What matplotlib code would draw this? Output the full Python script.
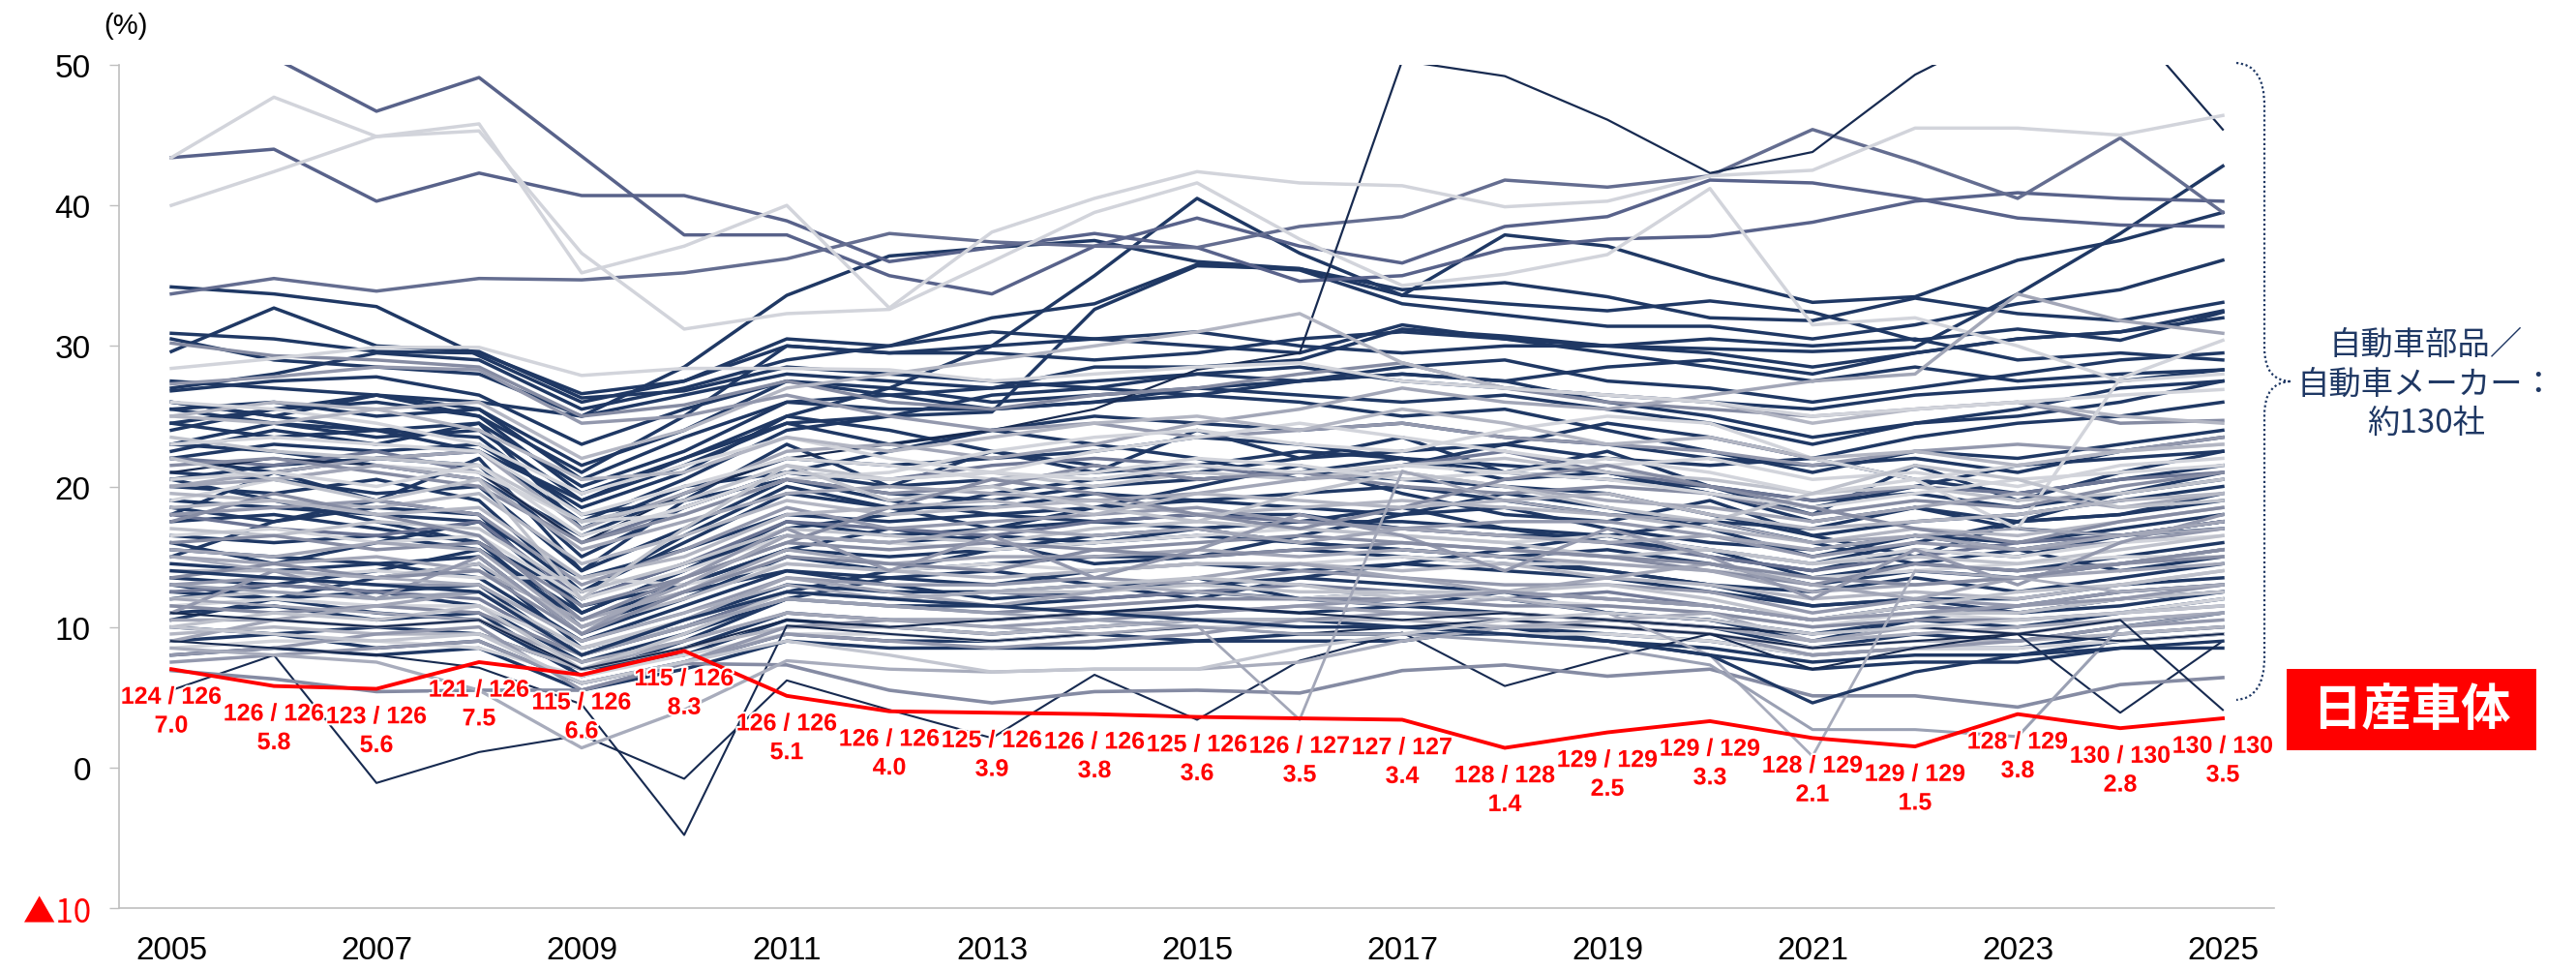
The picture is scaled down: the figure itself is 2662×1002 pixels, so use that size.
import matplotlib
matplotlib.use("Agg")
import matplotlib.pyplot as plt
from matplotlib.path import Path
from matplotlib.patches import PathPatch, Rectangle
import matplotlib.patheffects as pe

# ---------------- data ----------------
years = list(range(2005, 2026))
x_tick_years = [2005, 2007, 2009, 2011, 2013, 2015, 2017, 2019, 2021, 2023, 2025]
y_ticks = [-10, 0, 10, 20, 30, 40, 50]
y_tick_labels = ["▲10", "0", "10", "20", "30", "40", "50"]

nissan_shatai = [7.0, 5.8, 5.6, 7.5, 6.6, 8.3, 5.1, 4.0, 3.9, 3.8, 3.6,
                 3.5, 3.4, 1.4, 2.5, 3.3, 2.1, 1.5, 3.8, 2.8, 3.5]
nissan_rank = ["124 / 126", "126 / 126", "123 / 126", "121 / 126", "115 / 126",
               "115 / 126", "126 / 126", "126 / 126", "125 / 126", "126 / 126",
               "125 / 126", "126 / 127", "127 / 127", "128 / 128", "129 / 129",
               "129 / 129", "128 / 129", "129 / 129", "128 / 129", "130 / 130",
               "130 / 130"]

navy_lines = [
    [27.5, 27.0, 26.5, 26.0, 25.0, 26.5, 28.0, 27.5, 27.0, 27.5, 28.0, 28.5, 27.5, 27.0, 26.5, 26.0, 25.5, 26.5, 27.0, 27.5, 28.3],
    [26.8, 27.5, 27.8, 26.5, 23.0, 25.5, 27.5, 27.0, 26.0, 26.5, 27.0, 27.5, 28.0, 27.5, 26.0, 25.0, 23.5, 24.5, 25.5, 27.0, 27.5],
    [25.5, 26.0, 25.0, 25.5, 20.5, 23.5, 26.0, 25.5, 25.5, 26.0, 26.5, 26.0, 25.0, 25.5, 24.0, 22.5, 21.0, 22.5, 22.0, 23.0, 24.0],
    [24.5, 23.5, 24.0, 22.5, 19.0, 22.0, 24.5, 23.0, 24.0, 25.0, 24.5, 24.0, 24.5, 23.5, 23.0, 22.0, 21.5, 22.0, 21.0, 22.5, 23.5],
    [23.0, 22.5, 21.5, 20.5, 16.5, 19.5, 22.0, 21.5, 22.0, 22.5, 23.5, 23.0, 22.0, 21.5, 21.0, 19.5, 18.5, 20.0, 21.5, 22.0, 22.5],
    [22.0, 21.0, 22.0, 21.5, 15.0, 18.5, 21.0, 20.0, 20.5, 21.0, 21.5, 22.5, 22.0, 21.0, 20.5, 20.0, 19.0, 19.5, 18.5, 19.5, 20.5],
    [21.0, 20.5, 19.5, 20.0, 14.0, 17.0, 20.5, 19.5, 19.0, 20.0, 20.5, 21.0, 20.5, 20.0, 19.5, 18.0, 16.5, 17.5, 18.0, 19.0, 20.0],
    [20.0, 19.5, 20.5, 19.0, 12.5, 16.0, 19.5, 18.5, 18.5, 19.5, 19.0, 19.5, 20.0, 19.0, 18.0, 17.5, 17.0, 18.5, 17.5, 18.0, 19.0],
    [19.0, 18.5, 18.0, 17.5, 13.5, 15.5, 18.0, 17.5, 18.0, 18.5, 19.0, 18.5, 18.0, 18.5, 17.0, 16.0, 15.5, 16.5, 16.0, 17.0, 18.0],
    [18.5, 17.5, 18.5, 18.0, 11.0, 14.0, 17.5, 16.5, 17.0, 17.5, 18.0, 18.0, 17.0, 16.5, 16.5, 15.0, 14.0, 15.5, 15.0, 16.5, 17.0],
    [17.5, 18.0, 17.0, 16.0, 12.0, 14.5, 16.5, 16.0, 16.5, 16.0, 17.0, 17.5, 17.5, 17.0, 16.0, 15.5, 13.5, 14.5, 14.0, 15.0, 16.0],
    [16.5, 16.0, 16.5, 15.5, 10.5, 13.0, 15.5, 15.0, 15.5, 16.0, 16.5, 16.0, 15.5, 15.0, 15.5, 14.5, 13.0, 14.0, 13.5, 14.5, 15.5],
    [15.5, 15.0, 14.5, 15.0, 9.5, 12.0, 15.0, 14.0, 14.5, 15.0, 15.0, 15.5, 15.0, 14.5, 14.0, 13.0, 12.5, 13.5, 12.5, 13.5, 14.5],
    [14.5, 14.0, 14.5, 13.5, 9.0, 11.5, 14.0, 13.5, 13.0, 14.0, 14.5, 14.0, 14.5, 14.0, 13.5, 12.5, 11.5, 12.0, 12.0, 13.0, 13.5],
    [13.5, 13.0, 12.5, 13.0, 8.0, 10.5, 13.0, 12.5, 12.5, 13.0, 13.0, 13.5, 13.0, 12.5, 12.0, 11.5, 10.5, 11.5, 11.0, 12.0, 12.5],
    [12.5, 12.0, 12.5, 11.5, 7.5, 9.5, 12.0, 11.5, 11.5, 12.0, 12.5, 12.0, 12.5, 12.0, 11.0, 10.5, 9.5, 10.5, 10.0, 11.0, 12.0],
    [11.0, 11.5, 10.5, 11.0, 6.5, 8.5, 11.0, 10.5, 10.5, 11.0, 11.5, 11.0, 11.5, 11.0, 10.5, 10.0, 8.5, 9.5, 9.0, 10.0, 11.0],
    [10.0, 9.5, 10.0, 9.5, 7.0, 8.0, 10.5, 10.0, 9.5, 10.0, 10.5, 10.5, 10.0, 10.0, 9.5, 9.0, 8.0, 8.5, 8.5, 9.5, 10.0],
    [9.0, 9.5, 8.5, 9.0, 6.0, 7.5, 9.5, 9.0, 9.0, 9.5, 9.0, 9.5, 9.5, 9.5, 9.0, 8.5, 7.5, 8.0, 8.0, 9.0, 9.5],
    [8.0, 8.5, 8.0, 8.5, 5.5, 7.0, 9.0, 8.5, 8.5, 8.5, 9.0, 9.0, 9.0, 10.0, 9.0, 8.0, 7.0, 7.5, 7.5, 8.5, 8.5],
    [12.0, 13.0, 14.0, 15.5, 11.0, 14.0, 17.0, 18.0, 19.5, 20.5, 21.0, 22.0, 22.5, 23.0, 22.0, 21.5, 22.0, 23.5, 24.5, 25.0, 26.0],
    [26.0, 25.0, 24.0, 23.5, 18.0, 19.0, 20.5, 19.0, 18.0, 17.5, 17.0, 16.0, 15.5, 15.0, 14.0, 13.0, 11.5, 12.0, 11.0, 11.5, 12.5],
    [18.0, 21.0, 19.0, 22.0, 14.0, 19.0, 23.0, 20.0, 22.5, 21.0, 24.0, 22.0, 23.5, 21.0, 22.5, 20.0, 18.0, 21.5, 19.0, 21.0, 22.5],
    [15.0, 17.5, 19.0, 18.0, 12.5, 16.5, 20.0, 18.5, 17.0, 18.5, 20.0, 21.5, 19.5, 18.0, 17.5, 19.0, 16.5, 15.0, 17.5, 19.5, 21.0],
    [22.5, 24.0, 23.0, 24.5, 17.0, 20.0, 21.0, 22.5, 24.0, 23.0, 22.0, 20.5, 21.5, 23.0, 24.5, 23.5, 22.0, 20.5, 19.5, 20.5, 21.5],
    [10.5, 12.0, 13.5, 14.5, 8.5, 10.0, 12.5, 14.0, 15.5, 16.5, 17.0, 17.5, 18.5, 17.0, 16.5, 15.5, 14.5, 16.0, 17.5, 18.0, 19.5],
    [20.5, 19.0, 17.5, 16.0, 10.0, 12.5, 14.0, 13.0, 12.0, 12.5, 13.5, 12.0, 11.5, 12.5, 11.0, 10.5, 9.0, 10.5, 11.5, 12.5, 13.0],
    [16.0, 14.5, 16.0, 17.5, 11.5, 13.0, 15.5, 17.0, 16.0, 14.5, 15.0, 16.5, 18.0, 19.5, 18.5, 17.0, 15.0, 16.5, 15.5, 14.0, 15.0],
    [24.0, 25.5, 26.5, 25.0, 19.5, 22.0, 25.0, 24.0, 22.5, 21.5, 20.5, 21.0, 22.0, 20.5, 21.0, 19.5, 17.5, 18.5, 17.0, 16.5, 17.5],
    [13.0, 12.0, 11.0, 10.5, 6.5, 9.0, 12.0, 13.5, 14.0, 13.0, 12.0, 13.5, 14.5, 15.5, 16.5, 17.5, 16.0, 14.5, 15.5, 16.5, 17.5],
    [29.6, 32.7, 30.0, 29.6, 26.3, 26.8, 28.5, 28.0, 27.5, 27.0, 28.0, 27.5, 28.5, 29.0, 27.5, 27.0, 26.0, 27.0, 28.0, 29.0, 29.5],
    [30.9, 30.5, 29.6, 29.5, 26.6, 27.5, 30.0, 29.5, 29.5, 29.0, 29.5, 30.5, 31.0, 30.5, 30.0, 29.5, 28.5, 29.5, 30.5, 31.0, 32.5],
    [34.2, 33.7, 32.8, 29.3, 26.0, 27.5, 30.5, 30.0, 31.0, 30.5, 31.0, 30.0, 29.5, 30.0, 30.0, 30.5, 30.0, 30.5, 29.0, 29.5, 29.0],
    [30.5, 29.0, 28.5, 28.0, 25.0, 28.5, 33.6, 36.4, 37.0, 37.5, 36.0, 35.5, 34.0, 34.5, 33.5, 32.0, 31.8, 33.4, 32.3, 31.8, 33.1],
    [27.0, 28.0, 29.5, 29.0, 25.5, 27.0, 29.0, 30.0, 32.0, 33.0, 35.8, 35.4, 33.0, 32.2, 31.4, 31.4, 30.5, 31.5, 33.0, 34.0, 36.1],
    [23.0, 24.5, 23.5, 24.0, 19.0, 21.5, 24.5, 25.0, 25.3, 32.6, 35.7, 35.5, 33.6, 37.9, 37.1, 34.9, 33.1, 33.5, 36.1, 37.5, 39.5],
    [26.0, 25.0, 26.5, 25.5, 21.5, 24.0, 27.5, 26.5, 27.0, 28.5, 28.5, 29.0, 31.2, 30.7, 30.0, 29.8, 29.6, 29.9, 33.7, 38.0, 42.8],
    [24.5, 25.5, 26.0, 25.0, 21.0, 25.0, 30.0, 29.5, 30.0, 30.5, 30.0, 29.5, 31.5, 30.5, 29.5, 28.5, 27.5, 28.5, 27.5, 28.0, 28.3],
    [22.0, 23.0, 22.5, 23.0, 18.5, 21.0, 25.0, 27.0, 30.0, 35.0, 40.5, 36.6, 33.6, 33.0, 32.5, 33.2, 32.4, 30.4, 31.2, 30.4, 32.4],
    [20.5, 21.5, 22.0, 22.5, 17.5, 20.5, 24.0, 25.0, 26.5, 27.0, 26.5, 27.5, 28.0, 27.5, 28.5, 29.0, 28.0, 29.5, 30.5, 31.0, 32.0],
    [25.5, 24.5, 24.0, 24.5, 20.0, 22.5, 26.0, 26.5, 25.5, 26.0, 27.0, 26.5, 26.0, 26.5, 25.5, 24.5, 23.0, 24.5, 25.0, 26.0, 27.5],
]

spike_line = [21.0, 22.0, 21.5, 21.0, 16.0, 19.5, 22.0, 23.0, 24.0, 25.5, 28.3,
              29.5, 50.3, 49.2, 46.1, 42.3, 43.8, 49.3, 53.0, 53.8, 45.4]

slate_lines = [
    [56.0, 50.5, 46.7, 49.1, 43.5, 37.9, 37.9, 35.0, 33.7, 37.1, 39.1, 37.1, 35.9, 38.5, 39.2, 41.8, 41.6, 40.5, 39.1, 38.6, 38.5],
    [43.4, 44.0, 40.3, 42.3, 40.7, 40.7, 38.9, 36.0, 37.0, 38.0, 37.0, 34.6, 35.0, 36.9, 37.6, 37.8, 38.8, 40.3, 40.9, 40.5, 40.3],
    [33.7, 34.8, 33.9, 34.8, 34.7, 35.2, 36.2, 38.0, 37.4, 37.1, 37.0, 38.5, 39.2, 41.8, 41.3, 42.1, 45.4, 43.1, 40.5, 44.8, 39.5],
    [22.0, 21.5, 22.5, 21.0, 16.0, 18.5, 21.0, 20.5, 21.5, 22.0, 21.5, 20.5, 21.5, 22.5, 21.0, 20.0, 19.0, 20.0, 19.5, 20.5, 21.0],
    [18.0, 17.0, 16.5, 17.5, 12.0, 14.5, 17.5, 17.0, 16.5, 17.5, 18.0, 17.5, 17.0, 16.5, 16.0, 15.0, 14.0, 15.0, 16.0, 16.5, 17.5],
    [12.5, 13.0, 12.5, 12.0, 8.0, 10.0, 12.5, 12.0, 12.5, 12.0, 12.5, 13.0, 12.5, 12.0, 12.5, 11.5, 10.5, 11.5, 11.0, 12.0, 12.5],
]

grey_lines = [
    [30.2, 29.3, 29.0, 28.5, 25.0, 25.8, 27.5, 26.0, 25.5, 26.5, 27.0, 28.0, 28.8, 27.0, 26.0, 25.5, 25.0, 25.5, 26.0, 24.5, 24.7],
    [20.0, 21.0, 22.0, 22.5, 17.0, 19.5, 22.5, 23.0, 22.0, 23.0, 24.5, 25.5, 27.0, 26.0, 25.5, 26.5, 27.5, 28.0, 33.7, 31.8, 30.9],
    [25.0, 26.0, 25.5, 26.0, 22.0, 24.0, 27.0, 28.0, 29.0, 30.0, 31.0, 32.3, 28.8, 27.0, 26.5, 26.0, 24.5, 25.5, 26.0, 25.0, 24.5],
    [27.3, 27.8, 28.5, 28.3, 24.5, 25.0, 26.5, 25.0, 24.0, 24.5, 23.5, 24.0, 24.5, 23.5, 23.0, 22.5, 21.5, 22.5, 23.0, 22.5, 23.5],
    [23.5, 22.5, 22.0, 21.5, 17.5, 19.0, 21.5, 20.5, 21.0, 20.0, 21.0, 20.5, 21.5, 22.0, 21.0, 20.5, 19.5, 20.0, 19.0, 19.5, 20.5],
    [21.5, 22.0, 21.0, 20.0, 16.0, 18.0, 20.5, 19.5, 20.0, 21.5, 20.5, 21.0, 20.0, 19.5, 20.0, 19.5, 18.0, 19.0, 18.5, 20.0, 21.0],
    [20.0, 20.5, 21.5, 20.5, 15.5, 17.5, 19.5, 20.0, 19.5, 19.0, 19.5, 20.5, 21.0, 20.0, 19.0, 18.5, 17.5, 18.5, 19.5, 18.5, 19.5],
    [19.5, 19.0, 18.5, 19.5, 14.5, 16.5, 19.0, 18.0, 18.5, 19.0, 18.0, 18.5, 19.0, 18.5, 18.0, 17.0, 16.0, 17.0, 16.5, 17.5, 18.5],
    [18.0, 18.5, 19.0, 18.0, 13.0, 15.5, 18.5, 17.0, 17.5, 18.0, 18.5, 17.5, 17.0, 17.5, 17.5, 16.5, 15.0, 16.0, 15.5, 16.0, 17.0],
    [17.0, 16.5, 17.5, 17.0, 12.5, 14.5, 17.0, 16.5, 16.0, 17.0, 17.5, 17.0, 16.5, 16.0, 15.0, 15.5, 14.5, 15.0, 14.5, 15.5, 16.5],
    [16.0, 16.5, 15.5, 16.0, 11.5, 13.5, 16.0, 15.5, 16.0, 15.5, 16.0, 16.5, 16.0, 15.5, 15.0, 14.0, 13.0, 14.5, 14.0, 14.5, 15.0],
    [15.0, 14.5, 15.0, 14.0, 10.5, 12.5, 15.5, 14.5, 15.0, 15.0, 15.5, 15.0, 15.5, 15.0, 14.5, 14.0, 12.5, 13.0, 13.5, 14.0, 14.5],
    [14.0, 14.0, 13.5, 14.5, 10.0, 12.0, 14.5, 14.0, 13.5, 14.0, 14.5, 14.5, 14.0, 14.5, 13.5, 13.0, 12.0, 12.5, 12.0, 13.0, 14.0],
    [13.0, 13.5, 13.0, 13.0, 9.0, 11.0, 13.5, 13.0, 13.0, 13.5, 13.0, 14.0, 13.5, 13.0, 13.0, 12.5, 11.0, 12.0, 11.5, 12.5, 13.0],
    [12.0, 12.5, 12.0, 12.5, 8.5, 10.5, 12.5, 12.0, 12.5, 12.5, 13.0, 12.5, 12.5, 12.5, 12.0, 11.5, 10.5, 11.0, 11.0, 12.0, 12.5],
    [11.5, 11.0, 11.5, 11.0, 8.0, 10.0, 12.0, 11.5, 11.0, 11.5, 12.0, 12.0, 12.0, 11.5, 11.5, 11.0, 10.0, 10.5, 10.5, 11.0, 11.5],
    [10.5, 10.5, 10.0, 10.5, 7.5, 9.0, 11.0, 10.5, 10.5, 11.0, 11.0, 11.5, 11.0, 11.0, 10.5, 10.0, 9.0, 10.0, 9.5, 10.5, 11.0],
    [9.5, 10.0, 9.5, 9.5, 7.0, 8.5, 10.0, 10.0, 9.5, 10.0, 10.5, 10.5, 10.5, 10.0, 10.0, 9.5, 8.5, 9.0, 9.0, 9.5, 10.0],
    [11.0, 14.0, 12.0, 15.0, 9.5, 13.5, 17.0, 14.0, 16.5, 13.5, 15.5, 18.0, 16.5, 14.0, 17.0, 15.0, 12.0, 15.5, 13.0, 16.0, 18.0],
    [22.0, 20.5, 19.0, 20.5, 12.0, 17.0, 21.5, 19.0, 20.0, 18.5, 17.5, 19.5, 21.0, 20.0, 18.5, 17.5, 19.5, 21.5, 20.5, 18.5, 19.0],
    [17.5, 19.5, 18.0, 16.5, 10.5, 13.5, 16.0, 18.5, 20.5, 19.5, 18.0, 17.0, 18.5, 20.5, 21.5, 20.0, 18.5, 17.0, 16.0, 17.5, 18.5],
    [9.0, 10.5, 11.5, 12.5, 8.0, 10.5, 13.5, 12.5, 11.5, 12.5, 13.5, 14.5, 13.5, 12.5, 13.5, 14.5, 13.0, 12.0, 13.5, 14.5, 15.5],
    [25.0, 24.5, 25.5, 24.0, 20.5, 21.0, 23.5, 22.5, 23.5, 24.5, 25.0, 24.0, 25.5, 24.5, 23.0, 23.5, 22.0, 22.5, 21.5, 22.5, 23.0],
    [7.5, 8.0, 8.5, 9.0, 6.0, 7.5, 9.5, 9.0, 8.5, 9.0, 9.5, 10.5, 11.0, 10.5, 10.0, 9.5, 8.0, 8.5, 9.0, 10.0, 10.5],
    [10.0, 11.0, 10.5, 11.5, 7.0, 9.5, 12.5, 12.0, 12.5, 13.0, 13.5, 13.0, 12.0, 12.5, 13.0, 12.0, 10.5, 11.5, 12.5, 13.0, 14.0],
    [13.5, 14.5, 13.5, 14.0, 9.5, 12.5, 15.0, 14.5, 14.0, 15.5, 15.0, 15.5, 16.0, 15.5, 15.0, 14.5, 13.5, 13.0, 13.5, 14.5, 15.5],
    [15.5, 15.0, 16.0, 15.5, 10.0, 13.0, 16.5, 16.0, 17.0, 16.5, 17.0, 16.0, 17.0, 16.5, 16.0, 16.5, 15.5, 16.5, 15.5, 16.5, 17.5],
    [18.5, 19.0, 18.0, 18.5, 13.5, 15.0, 18.0, 18.5, 19.0, 18.0, 19.5, 19.0, 18.5, 19.0, 19.5, 18.0, 17.0, 17.5, 18.0, 19.0, 19.5],
    [8.0, 8.5, 9.5, 10.0, 5.5, 7.5, 10.0, 10.5, 10.0, 10.5, 11.0, 11.5, 12.0, 12.5, 12.0, 11.5, 10.5, 11.0, 11.5, 12.0, 13.0],
]

light_lines = [
    [43.4, 47.7, 44.9, 45.3, 36.6, 31.2, 32.3, 32.6, 36.0, 39.5, 41.6, 37.6, 34.3, 35.1, 36.5, 41.2, 31.5, 32.0, 30.0, 27.5, 28.0],
    [40.0, 42.4, 44.9, 45.8, 35.2, 37.1, 40.0, 32.7, 38.1, 40.5, 42.4, 41.6, 41.4, 39.9, 40.3, 42.1, 42.5, 45.5, 45.5, 45.0, 46.4],
    [28.4, 29.1, 29.9, 29.9, 27.9, 28.4, 28.4, 28.3, 27.5, 28.0, 28.5, 28.8, 27.5, 27.0, 26.5, 26.0, 25.0, 25.5, 26.0, 26.5, 26.9],
    [19.0, 20.5, 21.5, 21.0, 17.5, 18.0, 20.5, 21.0, 22.5, 23.5, 24.0, 23.0, 22.5, 24.0, 25.0, 24.5, 22.0, 20.5, 17.0, 27.7, 30.4],
    [26.0, 25.5, 24.5, 23.0, 19.5, 21.5, 23.5, 22.0, 21.0, 22.5, 23.5, 24.5, 23.5, 22.5, 21.5, 22.0, 20.5, 21.0, 20.0, 21.5, 22.0],
    [8.5, 9.0, 9.0, 8.5, 6.5, 8.0, 9.5, 9.5, 9.0, 9.5, 10.0, 10.0, 10.0, 9.5, 9.5, 9.0, 8.0, 8.5, 8.5, 9.0, 9.5],
    [14.0, 13.5, 14.0, 13.5, 13.5, 13.0, 14.5, 14.0, 14.5, 14.0, 14.5, 14.5, 15.0, 14.5, 14.5, 14.0, 13.5, 14.0, 14.5, 15.0, 15.0],
    [23.0, 23.5, 23.0, 22.5, 18.0, 20.0, 22.0, 21.5, 20.5, 21.0, 22.0, 21.5, 20.5, 21.0, 22.0, 21.0, 19.5, 20.5, 21.5, 22.5, 23.0],
    [16.5, 17.0, 16.0, 16.5, 12.0, 14.0, 16.5, 16.0, 15.5, 16.0, 16.5, 17.0, 16.5, 16.0, 16.5, 15.5, 14.5, 15.5, 15.0, 16.0, 16.5],
    [11.5, 12.0, 11.5, 11.5, 8.5, 10.0, 12.0, 11.5, 11.0, 11.5, 12.0, 12.0, 12.5, 12.0, 11.5, 11.0, 10.0, 11.0, 10.5, 11.0, 12.0],
    [20.5, 21.0, 20.0, 21.5, 16.5, 18.5, 21.0, 20.5, 21.0, 20.5, 21.5, 21.0, 21.5, 21.0, 20.5, 19.5, 18.5, 19.5, 20.5, 21.0, 21.5],
]

low_lines = [
    [5.5, 8.0, -1.1, 1.1, 2.3, -0.8, 6.2, 4.1, 2.1, 6.6, 3.4, 7.6, 9.6, 5.8, 7.8, 9.5, 7.0, 8.5, 9.5, 3.9, 9.0],
    [9.0, 8.5, 8.0, 7.1, 4.5, -4.8, 10.1, 9.5, 9.0, 9.5, 10.0, 9.5, 10.0, 10.5, 10.0, 9.5, 8.5, 9.0, 9.5, 9.0, 9.5],
    [6.9, 6.3, 5.4, 5.5, 5.5, 7.4, 7.3, 5.5, 4.6, 5.4, 5.5, 5.3, 6.9, 7.3, 6.5, 7.0, 5.1, 5.1, 4.3, 5.9, 6.4],
    [8.5, 8.0, 7.5, 5.5, 1.4, 4.1, 7.6, 7.0, 6.8, 7.0, 7.0, 7.5, 9.0, 10.0, 10.5, 11.0, 9.0, 9.5, 10.0, 10.5, 11.0],
    [12.0, 11.5, 11.0, 10.5, 7.0, 9.0, 11.0, 10.5, 10.0, 9.5, 10.1, 3.4, 21.1, 19.0, 18.0, 17.5, 16.0, 16.5, 17.0, 16.5, 17.0],
    [15.0, 14.0, 13.5, 13.0, 9.0, 11.0, 13.0, 12.0, 12.5, 13.0, 12.5, 12.0, 11.5, 12.0, 11.0, 8.0, 0.8, 14.0, 13.5, 12.5, 13.0],
    [13.0, 12.5, 12.0, 12.5, 8.0, 10.0, 12.0, 11.5, 11.0, 10.5, 10.0, 9.5, 9.5, 9.0, 8.5, 7.3, 2.7, 2.7, 2.2, 10.0, 11.0],
    [14.0, 13.5, 13.0, 12.5, 8.0, 10.5, 12.5, 12.0, 11.5, 11.0, 10.5, 10.0, 10.0, 9.5, 9.0, 8.0, 4.6, 6.8, 8.0, 8.5, 9.0],
    [11.0, 10.5, 10.0, 10.5, 7.0, 8.5, 10.5, 10.0, 10.5, 11.0, 11.5, 11.0, 10.5, 11.0, 10.5, 10.0, 9.5, 10.0, 9.5, 10.5, 4.1],
    [10.0, 9.5, 9.0, 9.5, 6.0, 7.5, 9.0, 8.0, 6.8, 7.0, 7.0, 8.5, 9.5, 10.5, 11.0, 10.5, 9.5, 10.0, 10.5, 11.0, 11.5],
]

# ---------------- styles ----------------
NAVY = "#1f3864"
NAVY_DARK = "#172a50"
SLATE = "#58628a"
GREYS = ["#868ca3", "#a2a6b7", "#b3b6c3", "#9398ad", "#bfc2cc"]
LIGHT = "#d2d4db"
RED = "#ff0000"
low_styles = [(NAVY_DARK, 1.5), (NAVY_DARK, 1.5), ("#858ba3", 2.6), ("#a8acbc", 2.4),
              ("#a3a7b8", 2.0), ("#a8acbc", 2.0), ("#9aa0b3", 2.2), (NAVY, 2.4),
              (NAVY_DARK, 1.5), ("#c3c6d0", 2.4)]
slate_colors = [SLATE, SLATE, "#646d90", "#6f7896", "#6a7393", "#747c99"]

NUM_FONT = ["Liberation Sans", "DejaVu Sans"]
CJK_FONT = ["Noto Sans CJK JP", "DejaVu Sans"]

fig = plt.figure(figsize=(26.62, 10.03), dpi=100)
ax = fig.add_axes([0.0462, 0.0638, 0.8366, 0.8684])

LW = 2.5
for vals in navy_lines:
    ax.plot(years, vals, color=NAVY, lw=LW, zorder=2)
for vals, c in zip(slate_lines, slate_colors):
    ax.plot(years, vals, color=c, lw=LW, zorder=2)
ax.plot(years, spike_line, color=NAVY_DARK, lw=1.6, zorder=2)
n = max(len(grey_lines), len(light_lines))
for i in range(n):
    if i < len(grey_lines):
        ax.plot(years, grey_lines[i], color=GREYS[i % len(GREYS)], lw=LW, zorder=2)
    if i < len(light_lines):
        ax.plot(years, light_lines[i], color=LIGHT, lw=LW, zorder=2)
for vals, (c, w) in zip(low_lines, low_styles):
    ax.plot(years, vals, color=c, lw=w, zorder=2)

ax.plot(years, nissan_shatai, color=RED, lw=2.8, zorder=5)
halo = [pe.withStroke(linewidth=3, foreground="white")]
for x, v, r in zip(years, nissan_shatai, nissan_rank):
    ax.annotate(f"{r}\n{v:.1f}", xy=(x, v), xytext=(0, -12), textcoords="offset points",
                ha="center", va="top", multialignment="center", fontsize=18,
                fontweight="bold", color=RED, family=NUM_FONT, linespacing=1.3,
                zorder=6, path_effects=halo)

ax.set_xlim(2004.49, 2025.5)
ax.set_ylim(-10, 50)
ax.set_xticks(x_tick_years)
ax.set_xticklabels([str(y) for y in x_tick_years], family=NUM_FONT, fontsize=24)
ax.set_yticks(y_ticks)
ax.set_yticklabels(y_tick_labels, family=NUM_FONT, fontsize=24)
neg_label = ax.get_yticklabels()[0]
neg_label.set_color(RED)
neg_label.set_family(["Noto Sans CJK JP", "Liberation Sans"])
ax.tick_params(axis="x", length=0, pad=20)
ax.tick_params(axis="y", length=7, width=1, color="#bfbfbf", pad=14, direction="out")
for s in ("top", "right"):
    ax.spines[s].set_visible(False)
for s in ("left", "bottom"):
    ax.spines[s].set_color("#bfbfbf")
    ax.spines[s].set_linewidth(1.2)

fig.text(130 / 2662, 1 - 27 / 1003, "(%)", ha="center", va="center", fontsize=21,
         family=NUM_FONT)

# brace
W, H = 2662.0, 1003.0
def fp(x, y):
    return (x / W, 1 - y / H)
verts = [fp(2311, 66), fp(2340, 68), fp(2340, 110), fp(2340, 360), fp(2340, 395),
         fp(2368, 395), fp(2340, 395), fp(2340, 430), fp(2340, 680), fp(2340, 722),
         fp(2311, 724)]
codes = [Path.MOVETO, Path.CURVE3, Path.CURVE3, Path.LINETO, Path.CURVE3, Path.CURVE3,
         Path.CURVE3, Path.CURVE3, Path.LINETO, Path.CURVE3, Path.CURVE3]
brace = PathPatch(Path(verts, codes), transform=fig.transFigure, fill=False,
                  edgecolor=NAVY, lw=1.6, linestyle=(0, (1, 1.2)))
fig.add_artist(brace)

fig.text(2507 / W, 1 - 397 / H, "自動車部品／\n自動車メーカー：\n約130社", ha="center",
         va="center", multialignment="center", fontsize=24, color=NAVY,
         family=CJK_FONT, linespacing=1.2)

box = Rectangle(fp(2363, 776), (2621 - 2363) / W, (776 - 692) / H,
                transform=fig.transFigure, facecolor=RED, edgecolor="none")
fig.add_artist(box)
fig.text((2363 + 2621) / 2 / W, 1 - 734 / H, "日産車体", ha="center", va="center",
         fontsize=37, fontweight="bold", color="white", family=CJK_FONT)

fig.savefig("out.png", dpi=100, facecolor="white")
